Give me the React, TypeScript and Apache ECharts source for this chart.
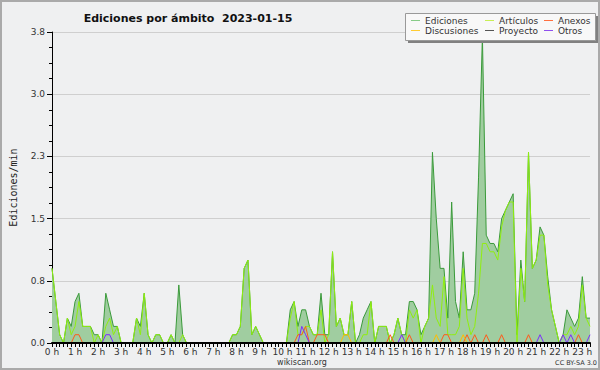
import React, { useEffect, useRef } from 'react';
import * as echarts from 'echarts';

const hourLabels = ['0 h','1 h','2 h','3 h','4 h','5 h','6 h','7 h','8 h','9 h','10 h','11 h','12 h','13 h','14 h','15 h','16 h','17 h','18 h','19 h','20 h','21 h','22 h','23 h'];

// 10-minute slots from 00:00 to 23:20
const timeSlots: string[] = [];
for (let h = 0; h < 24; h++) {
  for (let m = 0; m < 60; m += 10) {
    if (timeSlots.length < 141) timeSlots.push(`${h}:${m === 0 ? '00' : m}`);
  }
}

const ediciones = [
  0.9, 0.5, 0.1, 0, 0.3, 0.2,
  0.5, 0.6, 0.2, 0.2, 0.2, 0.1,
  0.1, 0, 0.6, 0.4, 0.2, 0.2,
  0, 0, 0, 0, 0.3, 0.2,
  0.6, 0.1, 0, 0.1, 0.1, 0,
  0, 0.1, 0, 0.7, 0.1, 0,
  0, 0, 0, 0, 0, 0,
  0, 0, 0, 0, 0, 0.1,
  0.1, 0.2, 0.9, 1.0, 0.1, 0.2,
  0.1, 0, 0, 0, 0, 0,
  0, 0, 0.4, 0.5, 0.2, 0.4,
  0.4, 0.2, 0.1, 0.1, 0.6, 0.1,
  0.1, 1.1, 0.2, 0.3, 0.1, 0.1,
  0.5, 0, 0.1, 0.3, 0.4, 0.5,
  0, 0.2, 0.2, 0.2, 0, 0.1,
  0.3, 0.1, 0.1, 0.5, 0.5, 0.4,
  0.1, 0.2, 0.3, 2.3, 1.5, 0.9,
  0.9, 0.3, 1.7, 0.5, 0.3, 1.1,
  0.4, 0.4, 0.6, 2.0, 3.7, 1.3,
  1.2, 1.2, 1.1, 1.5, 1.6, 1.7,
  1.8, 0.1, 1.0, 0.5, 2.3, 0.9,
  1.0, 1.4, 1.3, 0.8, 0.4, 0.2,
  0, 0.1, 0.4, 0.3, 0.2, 0.3,
  0.8, 0.3, 0.3,
];

const articulos = [
  0.9, 0.5, 0.1, 0, 0.3, 0.1,
  0.2, 0.5, 0.2, 0.2, 0.2, 0,
  0.1, 0, 0.2, 0.3, 0.1, 0.2,
  0, 0, 0, 0, 0.3, 0.1,
  0.6, 0.1, 0, 0.1, 0.1, 0,
  0, 0.1, 0, 0, 0.1, 0,
  0, 0, 0, 0, 0, 0,
  0, 0, 0, 0, 0, 0.1,
  0.1, 0.2, 0.9, 1.0, 0.1, 0.2,
  0.1, 0, 0, 0, 0, 0,
  0, 0, 0.3, 0.5, 0.1, 0.1,
  0.2, 0.2, 0.1, 0.1, 0.4, 0,
  0.1, 1.1, 0.2, 0.3, 0.1, 0.1,
  0.5, 0, 0, 0.1, 0.1, 0.5,
  0, 0.2, 0.2, 0.2, 0, 0.1,
  0.3, 0.1, 0, 0.4, 0.3, 0.4,
  0, 0.2, 0.3, 0.7, 0.3, 0.2,
  0.8, 0.1, 0.1, 0.1, 0.2, 0.9,
  0.3, 0.1, 0.2, 0.6, 1.2, 1.2,
  1.1, 1.1, 1.0, 1.4, 1.6, 1.7,
  1.7, 0, 0.9, 0.5, 2.3, 0.9,
  1.0, 1.3, 1.3, 0.7, 0.4, 0.2,
  0, 0.1, 0.1, 0.2, 0.1, 0.2,
  0.7, 0.3, 0.2,
];

// sparse series: slot index -> edits/min
const anexosSlots = [6, 7, 64, 65, 66, 69, 70, 71, 88, 93, 102, 103, 108, 110, 113, 117, 124, 137];
const anexosValues = [0.1, 0.1, 0.1, 0.1, 0.2, 0.1, 0.1, 0.1, 0.1, 0.1, 0.1, 0.1, 0.1, 0.1, 0.1, 0.1, 0.1, 0.1];
const discusionesSlots = [76, 77, 100, 107];
const discusionesValues = [0.1, 0.1, 0.1, 0.1];
const proyectoSlots: number[] = [];
const proyectoValues: number[] = [];
const otrosSlots = [14, 15, 65, 66, 91, 127, 133, 135, 140];
const otrosValues = [0.1, 0.1, 0.2, 0.1, 0.1, 0.1, 0.1, 0.1, 0.1];

const yTicks = [0, 0.75, 1.5, 2.25, 3.0, 3.75];

function fill(slots: number[], values: number[]) {
  const out = timeSlots.map(() => 0);
  slots.forEach((s, k) => { out[s] = values[k]; });
  return out;
}

const FONT = 'DejaVu Sans';

export default function App() {
  const ref = useRef<HTMLDivElement>(null);
  useEffect(() => {
    if (!ref.current) return;
    const chart = echarts.init(ref.current, undefined, { renderer: 'svg' });
    const lineSeries = (name: string, data: number[], color: string, z: number, area?: string) => ({
      name,
      type: 'line',
      data,
      symbol: 'none',
      z,
      lineStyle: { color, width: 1 },
      itemStyle: { color },
      areaStyle: area ? { color: area, opacity: 1 } : undefined,
      silent: true,
    });
    const legendCommon = {
      orient: 'vertical',
      top: 16,
      itemGap: 1,
      itemWidth: 9,
      itemHeight: 1,
      icon: 'rect',
      selectedMode: false,
      padding: 0,
      z: 10,
      textStyle: { fontFamily: FONT, fontSize: 9, color: '#333', padding: [0, 0, 0, 0] },
    };
    chart.setOption({
      animation: false,
      backgroundColor: '#eff0f1',
      grid: { left: 46, right: 10, top: 32, bottom: 27, containLabel: false },
      xAxis: {
        type: 'category',
        data: timeSlots,
        boundaryGap: false,
        z: 5,
        axisLine: { lineStyle: { color: '#000', width: 2 } },
        axisTick: { interval: 0, length: 4, lineStyle: { color: '#000' } },
        axisLabel: {
          interval: 5,
          margin: 4,
          fontFamily: FONT,
          fontSize: 9,
          color: '#333',
          formatter: (_v: string, idx: number) => hourLabels[Math.round(idx / 6)] ?? '',
        },
        splitLine: { show: false },
      },
      yAxis: {
        type: 'value',
        min: yTicks[0],
        max: yTicks[yTicks.length - 1],
        interval: 0.75,
        name: 'Ediciones/min',
        nameLocation: 'middle',
        nameGap: 34,
        nameTextStyle: { fontFamily: 'DejaVu Sans Mono', fontSize: 10, color: '#222' },
        axisLine: { show: true, lineStyle: { color: '#000', width: 1 } },
        axisTick: { show: true, length: 5, lineStyle: { color: '#000' } },
        minorTick: { show: true, splitNumber: 4, length: 3, lineStyle: { color: '#000' } },
        axisLabel: {
          margin: 7,
          fontFamily: FONT,
          fontSize: 9,
          color: '#333',
          formatter: (v: number) => v.toFixed(1),
        },
        splitLine: { show: true, lineStyle: { color: '#cfcfcf', width: 1 } },
      },
      legend: [
        { ...legendCommon, left: 411, data: [
          { name: 'Ediciones', itemStyle: { color: '#88cc88' } },
          { name: 'Discusiones', itemStyle: { color: '#ffcc33' } },
        ] },
        { ...legendCommon, left: 485, data: [
          { name: 'Artículos', itemStyle: { color: '#c8ee55' } },
          { name: 'Proyecto', itemStyle: { color: '#555555' } },
        ] },
        { ...legendCommon, left: 544, data: [
          { name: 'Anexos', itemStyle: { color: '#ff7040' } },
          { name: 'Otros', itemStyle: { color: '#9050ee' } },
        ] },
      ],
      graphic: [
        { type: 'rect', z: 100, silent: true, shape: { x: 1, y: 1, width: 598, height: 368 }, style: { fill: 'none', stroke: '#aaaaaa', lineWidth: 2 } },
        { type: 'rect', z: 8, silent: true, shape: { x: 408, y: 16, width: 190, height: 27 }, style: { fill: '#808080' } },
        { type: 'rect', z: 9, silent: true, shape: { x: 405.5, y: 13.5, width: 190, height: 27 }, style: { fill: '#f8f8f8', stroke: '#999999', lineWidth: 1 } },
        { type: 'text', z: 10, silent: true, x: 188, y: 18, style: { text: 'Ediciones por ámbito  2023-01-15', font: `bold 11px "${FONT}"`, fill: '#111', textAlign: 'center', textVerticalAlign: 'middle' } },
        { type: 'text', z: 10, silent: true, x: 302, y: 362.5, style: { text: 'wikiscan.org', font: `8px "${FONT}"`, fill: '#333', textAlign: 'center', textVerticalAlign: 'middle' } },
        { type: 'text', z: 10, silent: true, x: 597, y: 363, style: { text: 'CC BY-SA 3.0', font: `6.5px "${FONT}"`, fill: '#333', textAlign: 'right', textVerticalAlign: 'middle' } },
      ],
      series: [
        lineSeries('Ediciones', ediciones, '#3a9a3a', 2, '#a0cda0'),
        lineSeries('Artículos', articulos, '#90ee10', 3),
        lineSeries('Anexos', fill(anexosSlots, anexosValues), '#ff5a1a', 4),
        lineSeries('Discusiones', fill(discusionesSlots, discusionesValues), '#ffbb00', 4),
        lineSeries('Proyecto', fill(proyectoSlots, proyectoValues), '#555555', 4),
        lineSeries('Otros', fill(otrosSlots, otrosValues), '#7b2cff', 4),
      ],
    });
    return () => chart.dispose();
  }, []);
  return (
    <div
      ref={ref}
      style={{ position: 'fixed', left: 0, top: 0, width: 600, height: 370, background: '#eff0f1' }}
    />
  );
}
